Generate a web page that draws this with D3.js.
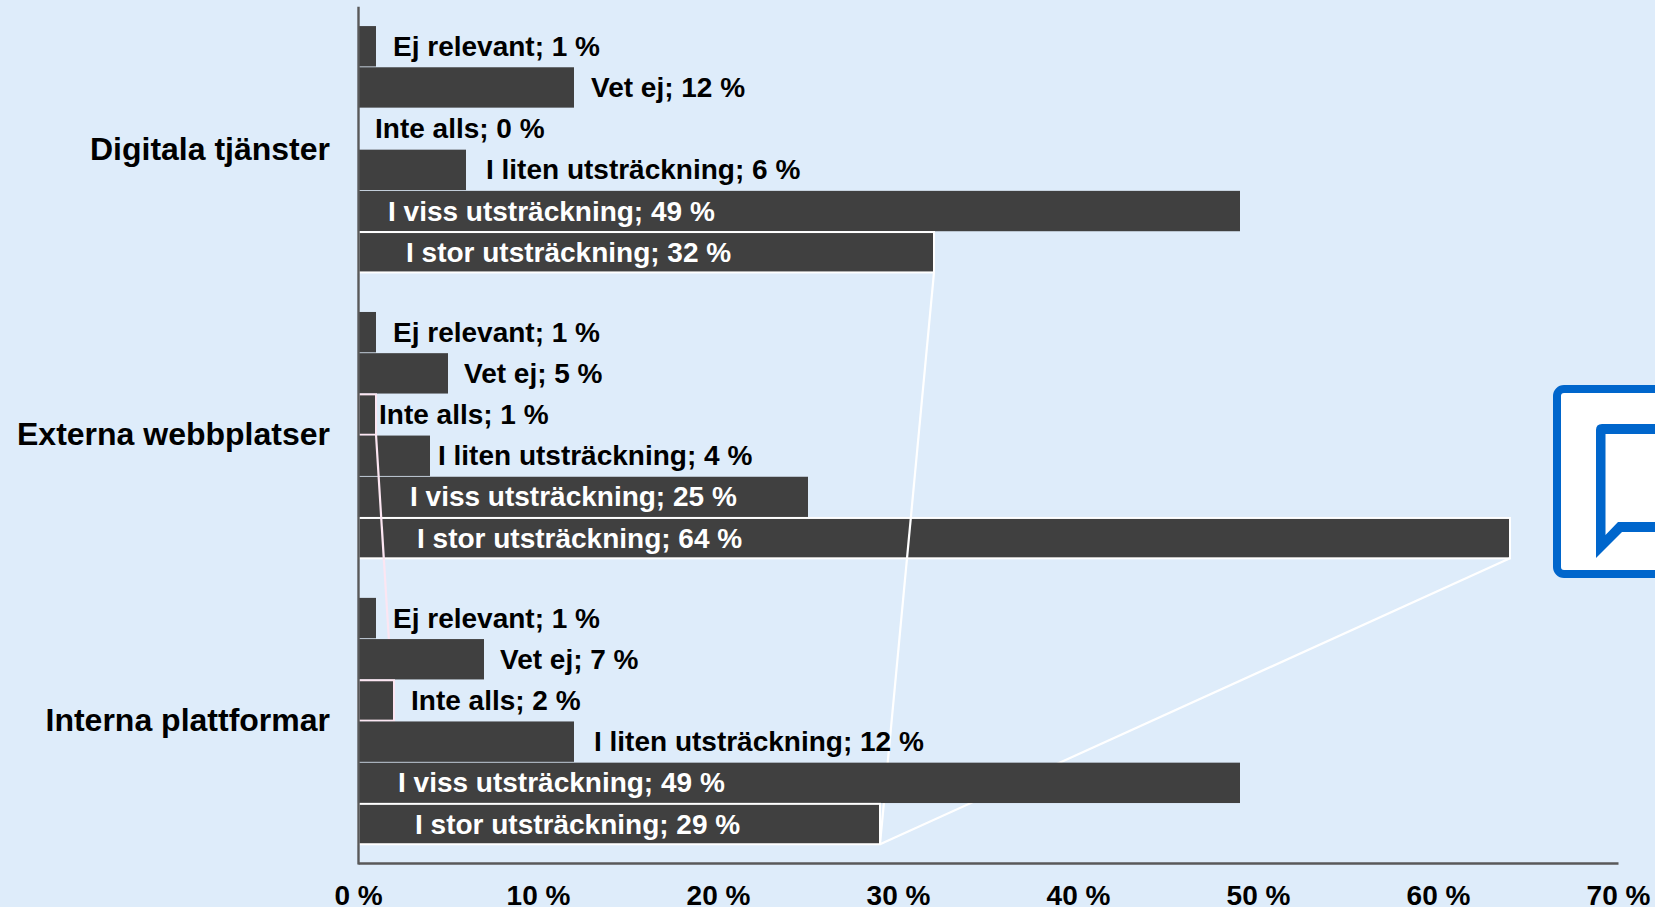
<!DOCTYPE html>
<html>
<head>
<meta charset="utf-8">
<script src="https://cdn.jsdelivr.net/npm/d3@7"></script>
<style>
  html, body { margin: 0; padding: 0; background: #deecfa; overflow: hidden; }
  text { font-family: "Liberation Sans", Arial, sans-serif; font-weight: bold; }
</style>
</head>
<body>
<script>
// Data
const groups = ["Digitala tjänster", "Externa webbplatser", "Interna plattformar"];
const answers = ["Ej relevant", "Vet ej", "Inte alls", "I liten utsträckning", "I viss utsträckning", "I stor utsträckning"];
const ejRelevant = [1, 1, 1];
const vetEj = [12, 5, 7];
const inteAlls = [0, 1, 2];
const litenUtstrackning = [6, 4, 12];
const vissUtstrackning = [49, 25, 49];
const storUtstrackning = [32, 64, 29];
const xTicks = [0, 10, 20, 30, 40, 50, 60, 70];

const seriesValues = [ejRelevant, vetEj, inteAlls, litenUtstrackning, vissUtstrackning, storUtstrackning];

// Dimensions
const width = 1655, height = 907;
const x0 = 358, x70 = 1618, plotTop = 6, plotBottom = 863;
const labelSize = 28, groupSize = 32;

// Label placement, hand tuned: px past the bar end, or px inside from the axis for the last two series
const labelGaps = [
  [17, 17, 17, 20, 30, 48],
  [17, 16, 3, 8, 52, 59],
  [17, 16, 17, 20, 40, 57]
];

const svg = d3.select("body")
      .append("svg")
      .attr("width", width)
      .attr("height", height)
      .style("display", "block");

const x = d3.scaleLinear().domain([0, 70]).range([x0, x70]);
const y = d3.scaleBand().domain(groups).range([plotTop + 0.3, plotBottom + 1]);
const yInner = d3.scaleBand().domain(answers).range([0, y.bandwidth()]).paddingInner(0.02).paddingOuter(0.48);

const rows = groups.flatMap((group, g) => answers.map((answer, s) => ({
  group, g, answer, s, value: seriesValues[s][g]
})));

function outline(d) {
  if (d.s === 5) return "#ffffff";
  if (d.s === 2) return "#fce6f2";
  return "none";
}

function drawBars(parent, data) {
  parent.selectAll("rect")
    .data(data.filter(d => d.value > 0))
    .enter().append("rect")
    .attr("x", x(0) + 0.5)
    .attr("y", d => y(d.group) + yInner(d.answer))
    .attr("width", d => x(d.value) - x(0) - 0.5)
    .attr("height", yInner.bandwidth())
    .attr("fill", "#404040")
    .attr("stroke", outline)
    .attr("stroke-width", 2);
}

// Series lines sit above the first two groups but below the last one
drawBars(svg.append("g"), rows.filter(d => d.g < 2));

// Each line joins the bottom right corners of two bars of the same answer
const connectors = [
  { answer: answers[5], from: 0, to: 2, color: "#ffffff" },
  { answer: answers[5], from: 1, to: 2, color: "#ffffff" },
  { answer: answers[2], from: 1, to: 2, color: "#fce6f2" }
];
const barBottom = (d, g) => y(groups[g]) + yInner(d.answer) + yInner.bandwidth();

svg.append("g").selectAll("line")
  .data(connectors)
  .enter().append("line")
  .attr("x1", d => x(seriesValues[answers.indexOf(d.answer)][d.from]))
  .attr("y1", d => barBottom(d, d.from))
  .attr("x2", d => x(seriesValues[answers.indexOf(d.answer)][d.to]))
  .attr("y2", d => barBottom(d, d.to))
  .attr("stroke", d => d.color)
  .attr("stroke-width", 2.2);

drawBars(svg.append("g"), rows.filter(d => d.g === 2));

// Value labels
svg.append("g").selectAll("text")
  .data(rows)
  .enter().append("text")
  .attr("x", d => (d.s >= 4 ? x(0) : x(d.value)) + labelGaps[d.g][d.s])
  .attr("y", d => y(d.group) + yInner(d.answer) + yInner.bandwidth() / 2 + 9.5)
  .attr("font-size", labelSize)
  .attr("fill", d => d.s >= 4 ? "#ffffff" : "#000000")
  .text(d => `${d.answer}; ${d.value} %`);

// Axes
const xAxis = svg.append("g")
  .attr("transform", `translate(0,${plotBottom})`)
  .call(d3.axisBottom(x).tickValues(xTicks).tickSize(0).tickPadding(22).tickFormat(d => d + " %"));

const yAxis = svg.append("g")
  .attr("transform", `translate(${x0},0)`)
  .call(d3.axisLeft(y).tickSize(0).tickPadding(28));

[xAxis, yAxis].forEach(axis => {
  axis.attr("font-family", null);
  axis.select(".domain").attr("stroke", "#595959").attr("stroke-width", 2.4);
  axis.selectAll("text").attr("fill", "#000000");
});
xAxis.selectAll("text").attr("font-size", labelSize);
yAxis.selectAll("text").attr("font-size", groupSize).attr("dy", "0.32em");

// Chat icon cut off by the right edge
const icon = svg.append("g");
icon.append("rect")
  .attr("x", 1557).attr("y", 389)
  .attr("width", 130).attr("height", 185)
  .attr("rx", 7)
  .attr("fill", "#ffffff")
  .attr("stroke", "#0066cc")
  .attr("stroke-width", 8);
icon.append("path")
  .attr("d", "M1680 424 L1602 424 Q1596 424 1596 430 L1596 558 L1622 532 L1680 532 L1680 522 L1618 522 L1605.5 535 L1605.5 434 L1680 434 Z")
  .attr("fill", "#0066cc");
</script>
</body>
</html>
